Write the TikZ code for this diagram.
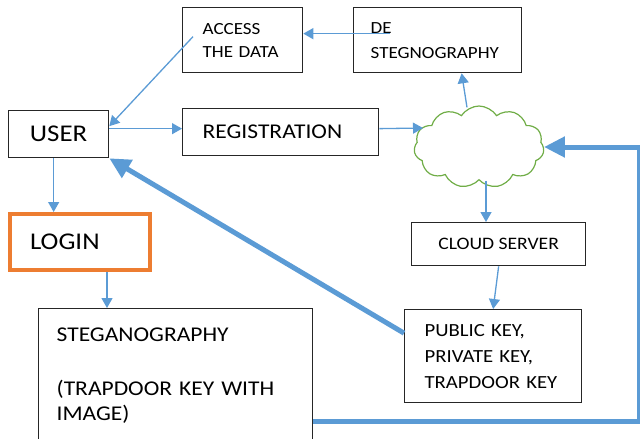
\documentclass[tikz,border=0pt]{standalone}
\usepackage{fontspec}
\setmainfont[FakeStretch=1.12]{Carlito}
\usetikzlibrary{arrows.meta,shapes.symbols}
\definecolor{lblue}{HTML}{5B9BD5}
\definecolor{lorange}{HTML}{ED7D31}
\definecolor{lgreen}{HTML}{70AD47}
\begin{document}
\begin{tikzpicture}[x=1pt,y=-1pt,
  box/.style={draw=black!85, line width=1.3pt, anchor=north west, inner ysep=0pt, align=left},
  arr/.style={draw=lblue, line width=1.3pt, -{Triangle[length=10pt,width=11pt]}},
  bigarr/.style={draw=lblue, line width=5pt, -{Triangle[length=21pt,width=20pt]}}]
\useasboundingbox (0,0) rectangle (640,439);
\node[box, minimum width=120pt, minimum height=65pt, inner xsep=20pt, text width=80pt,
  font=\fontsize{17}{23}\selectfont] (acc) at (182,7) {ACCESS\\THE DATA};
\node[box, minimum width=168pt, minimum height=65pt, inner xsep=17pt, text width=134pt,
  font=\fontsize{17}{25}\selectfont] (de) at (353,7) {DE\\STEGNOGRAPHY};
\node[box, minimum width=100pt, minimum height=47pt, inner xsep=0pt, align=center,
  font=\fontsize{24}{26}\selectfont] (user) at (8,110) {USER};
\node[box, minimum width=196pt, minimum height=47pt, inner xsep=20pt, text width=156pt,
  font=\fontsize{21}{26}\selectfont] (reg) at (182,108) {REGISTRATION};
\node[cloud, cloud puffs=11, cloud puff arc=115, aspect=1.6, draw=lgreen, line width=1.2pt,
  minimum width=130pt, minimum height=82pt, inner sep=0pt] (cloud) at (479,147) {};
\node[box, minimum width=174pt, minimum height=43pt, inner xsep=0pt, align=center,
  font=\fontsize{17.5}{20}\selectfont] (cs) at (411,222) {CLOUD SERVER};
\node[box, minimum width=177pt, minimum height=93pt, inner xsep=20pt, text width=137pt,
  font=\fontsize{18.5}{26}\selectfont] (pk) at (404,309) {PUBLIC KEY,\\PRIVATE KEY,\\TRAPDOOR KEY};
\node[box, draw=lorange, line width=4pt, minimum width=140pt, minimum height=56pt, inner xsep=20pt, text width=100pt,
  font=\fontsize{24}{26}\selectfont] (login) at (8,212) {LOGIN};
\node[box, minimum width=274pt, minimum height=134pt, inner xsep=18pt, text width=238pt,
  font=\fontsize{21}{25}\selectfont] (steg) at (38,308) {STEGANOGRAPHY\\[29pt](TRAPDOOR KEY WITH\\IMAGE)};
% anchor coordinates
\coordinate (cbot) at ([xshift=7pt]cloud.south);
\coordinate (ubot) at ([xshift=-5pt]user.south);
\coordinate (lbot) at ([xshift=27pt]login.south);
% connectors
\draw[arr] ([xshift=37pt,yshift=6.5pt]de.west) -- ([yshift=6.5pt]acc.east);
\draw[arr] ([xshift=11pt,yshift=3.5pt]acc.west) -- ([yshift=8pt]user.east);
\draw[arr] ([yshift=5.5pt]user.east) -- ([yshift=3.5pt]reg.west);
\draw[arr] ([yshift=3.5pt]reg.east) -- ([xshift=9pt,yshift=19pt]cloud.west);
\draw[arr] ([xshift=-12pt,yshift=-2pt]cloud.north) -- ([xshift=24pt]de.south);
\draw[arr] (cbot) -- (cs.north -| cbot);
\draw[arr] (cs.south) -- (pk.north);
\draw[arr] (ubot) -- (login.north -| ubot);
\draw[arr] (lbot) -- (steg.north -| lbot);
\draw[bigarr] ([yshift=23pt]pk.west) -- (user.south east);
\draw[bigarr] ([yshift=-46pt]steg.east) -- ++(326,0) |- (cloud.east);
\end{tikzpicture}
\end{document}
